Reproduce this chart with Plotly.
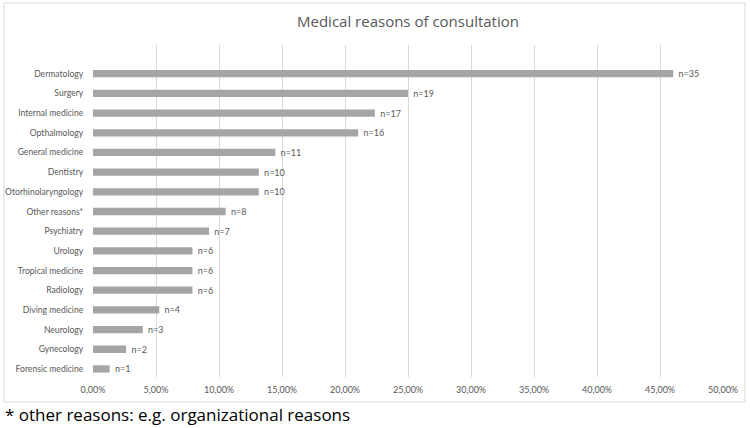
import plotly.graph_objects as go

categories = ["Forensic medicine", "Gynecology", "Neurology", "Diving medicine",
              "Radiology", "Tropical medicine", "Urology", "Psychiatry",
              "Other reasons*", "Otorhinolaryngology", "Dentistry", "General medicine",
              "Opthalmology", "Internal medicine", "Surgery", "Dermatology"]
percent = [1.32, 2.63, 3.95, 5.26, 7.89, 7.89, 7.89, 9.21,
           10.53, 13.16, 13.16, 14.47, 21.05, 22.37, 25.0, 46.05]
counts = [1, 2, 3, 4, 6, 6, 6, 7, 8, 10, 10, 11, 16, 17, 19, 35]
x_ticks = [0, 5, 10, 15, 20, 25, 30, 35, 40, 45, 50]

title_text = "Medical reasons of consultation"
footnote = "* other reasons: e.g. organizational reasons"

fig = go.Figure()
fig.add_trace(go.Bar(
    y=categories,
    x=[p / 100 for p in percent],
    orientation="h",
    width=0.37,
    marker=dict(color="#A5A5A5", line=dict(width=0)),
    text=["\u00a0n=%d" % c for c in counts],
    textposition="outside",
    constraintext="none",
    textfont=dict(family="Lato", size=9, color="#595959"),
    cliponaxis=False,
    hoverinfo="skip",
))

L, R, T, B = 93, 27, 45, 51
W, H = 750, 428
pw, ph = W - L - R, H - T - B

def px_x(p):
    return (p - L) / pw

def px_y(p):
    return (H - B - p) / ph

fig.update_layout(
    width=W, height=H,
    margin=dict(l=L, r=R, t=T, b=B, pad=0, autoexpand=False),
    paper_bgcolor="white",
    plot_bgcolor="white",
    separators=",.",
    showlegend=False,
    font=dict(family="Lato", color="#595959"),
    title=dict(text=title_text, x=0.5, xref="paper", xanchor="center",
               y=1 - 22 / H, yanchor="middle",
               font=dict(family="Open Sans", size=15, color="#595959")),
    xaxis=dict(
        range=[0, 0.5],
        automargin=False,
        tickvals=[t / 100 for t in x_ticks],
        tickformat=".2%",
        showgrid=True, gridcolor="#D9D9D9", gridwidth=1,
        zeroline=False, showline=False,
        ticks="outside", ticklen=4, tickcolor="rgba(0,0,0,0)",
        tickfont=dict(family="Lato", size=9, color="#595959"),
        fixedrange=True,
    ),
    yaxis=dict(
        type="category",
        automargin=False,
        categoryorder="array", categoryarray=categories,
        range=[-0.41, 16.46],
        showgrid=False, zeroline=False, showline=False,
        ticks="outside", ticklen=7, tickcolor="rgba(0,0,0,0)",
        tickfont=dict(family="Lato", size=8.6, color="#595959"),
        fixedrange=True,
    ),
    shapes=[dict(type="rect", xref="paper", yref="paper",
                 x0=px_x(4), x1=px_x(745), y0=px_y(402), y1=px_y(3),
                 line=dict(color="#D9D9D9", width=1), fillcolor="rgba(0,0,0,0)",
                 layer="below")],
    annotations=[dict(text=footnote, xref="paper", yref="paper",
                      x=px_x(3), y=px_y(414), xanchor="left", yanchor="middle",
                      showarrow=False,
                      font=dict(family="Open Sans", size=17, color="#000000"))],
)

fig.write_html("out.html", config={"displayModeBar": False},
               post_script="document.body.style.margin='0';")
